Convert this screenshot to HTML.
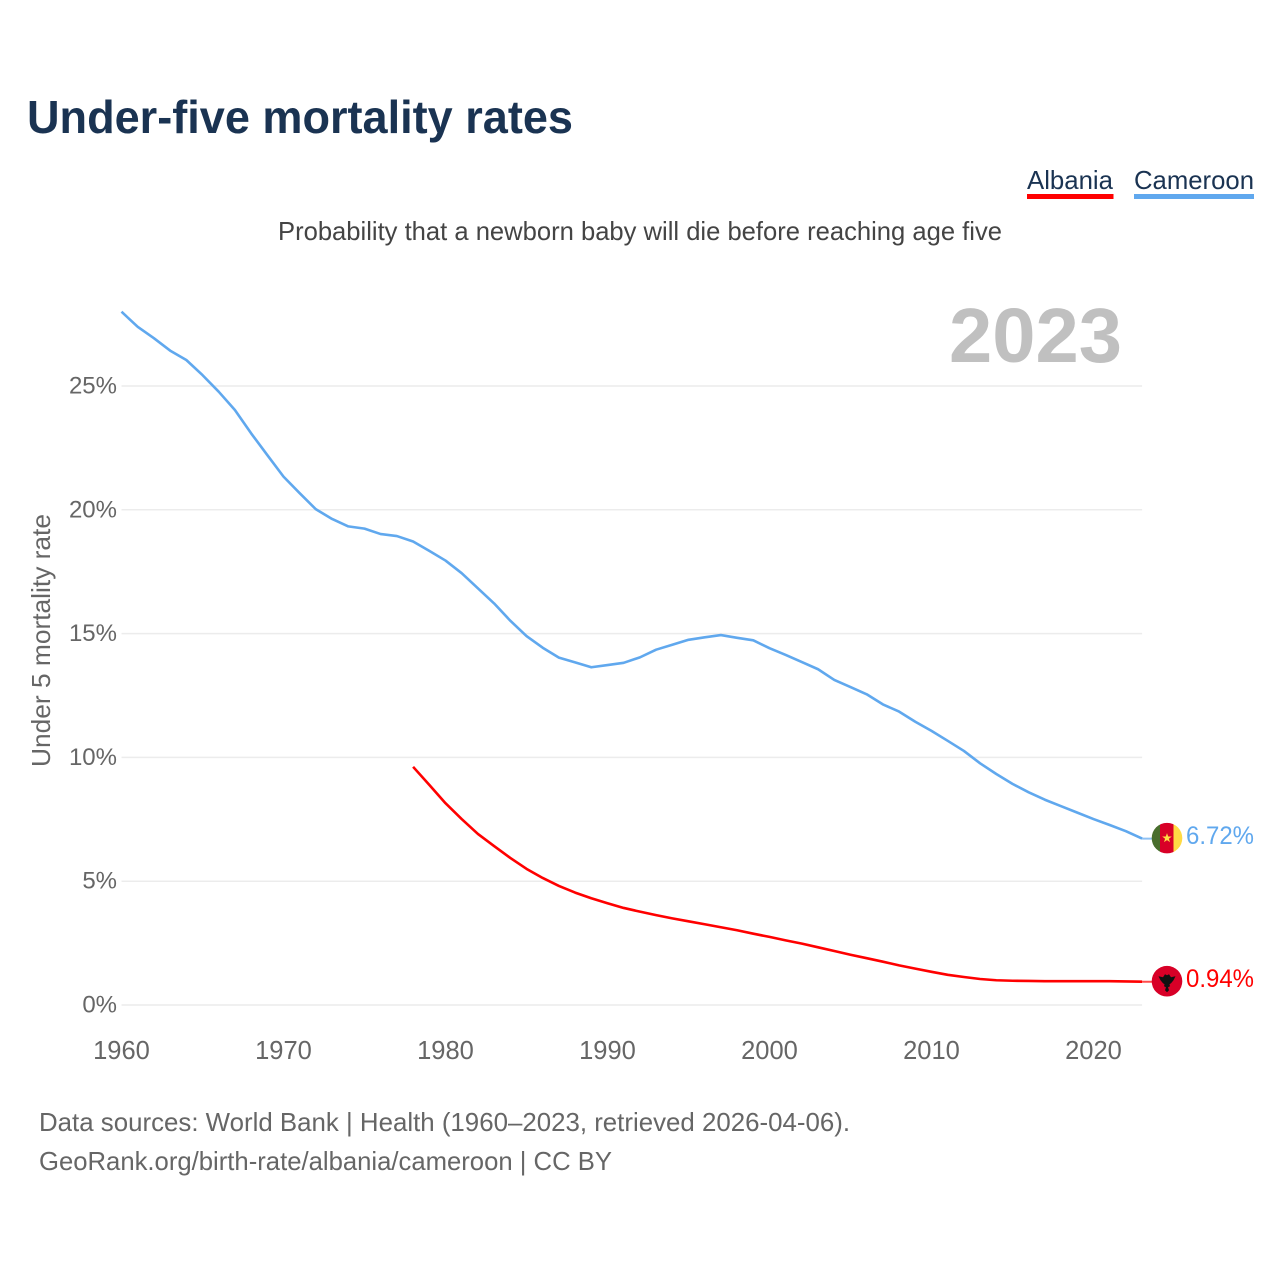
<!DOCTYPE html>
<html lang="en">
<head>
<meta charset="utf-8">
<title>Under-five mortality rates</title>
<style>
html,body{margin:0;padding:0;background:#fff;}
svg{display:block;font-family:"Liberation Sans",sans-serif;}
</style>
</head>
<body>
<svg id="chart" xmlns="http://www.w3.org/2000/svg" width="1280" height="1280" viewBox="0 0 1280 1280">
  <rect width="1280" height="1280" fill="#fff"/>
  <text x="27" y="133" font-size="46" font-weight="bold" fill="#1a3352" textLength="546" lengthAdjust="spacingAndGlyphs">Under-five mortality rates</text>
  <g>
    <text x="1027" y="189" font-size="26" fill="#1a3352" textLength="86" lengthAdjust="spacingAndGlyphs">Albania</text>
    <rect x="1027" y="194" width="86.500" height="5" fill="#ff0000"/>
  </g>
  <g>
    <text x="1134" y="189" font-size="26" fill="#1a3352" textLength="120" lengthAdjust="spacingAndGlyphs">Cameroon</text>
    <rect x="1134" y="194" width="120" height="5" fill="#60a8ee"/>
  </g>
  <text x="278" y="240" font-size="26" fill="#444" textLength="724" lengthAdjust="spacingAndGlyphs">Probability that a newborn baby will die before reaching age five</text>
  <text x="949" y="362" font-size="77" font-weight="bold" fill="#c0c0c0" textLength="173" lengthAdjust="spacingAndGlyphs">2023</text>
  <text transform="translate(50 640.500) rotate(-90)" text-anchor="middle" font-size="26" fill="#666" textLength="253" lengthAdjust="spacingAndGlyphs">Under 5 mortality rate</text>
  <g id="grid"></g>
  <g id="y-ticks"></g>
  <g id="x-ticks"></g>
  <g id="series"></g>
  <g id="flag-cameroon">
    <clipPath id="clip-cm"><circle cx="0" cy="0" r="15.300"/></clipPath>
    <g clip-path="url(#clip-cm)">
      <rect x="-16" y="-16" width="9" height="32" fill="#496e2d"/>
      <rect x="-7" y="-16" width="13.500" height="32" fill="#d80027"/>
      <rect x="6.500" y="-16" width="10" height="32" fill="#ffda44"/>
      <polygon points="0,-5 1.200,-1.600 4.800,-1.600 1.900,0.600 3,4 0,2 -3,4 -1.900,0.600 -4.800,-1.600 -1.200,-1.600" fill="#ffda44"/>
    </g>
  </g>
  <g id="flag-albania">
    <circle cx="0" cy="0" r="15.300" fill="#d80027"/>
    <polygon fill="#111" points="-8.500,-5 -4,-4 -2,-7 0,-6 2,-7 4,-4 8.500,-5 6.500,-1 4,2 2.500,3 3,5 1,6 2,9 0,11 -2,9 -1,6 -3,5 -2.500,3 -4,2 -6.500,-1"/>
  </g>
  <text id="label-cameroon" x="1186" y="844" font-size="25" fill="#60a8ee" textLength="68" lengthAdjust="spacingAndGlyphs"></text>
  <text id="label-albania" x="1186" y="987" font-size="25" fill="#ff0000" textLength="68" lengthAdjust="spacingAndGlyphs"></text>
  <text x="39" y="1131" font-size="26" fill="#666" textLength="811" lengthAdjust="spacingAndGlyphs">Data sources: World Bank | Health (1960–2023, retrieved 2026-04-06).</text>
  <text x="39" y="1170" font-size="26" fill="#666" textLength="573" lengthAdjust="spacingAndGlyphs">GeoRank.org/birth-rate/albania/cameroon | CC BY</text>
</svg>
<script>
const yTicks = [0, 5, 10, 15, 20, 25];
const xTicks = [1960, 1970, 1980, 1990, 2000, 2010, 2020];
const cameroonStartYear = 1960;
const cameroonValues = [28.0,27.39,26.93,26.43,26.05,25.44,24.77,24.03,23.09,22.21,21.34,20.67,20.02,19.63,19.33,19.24,19.02,18.94,18.72,18.34,17.95,17.44,16.83,16.22,15.52,14.90,14.43,14.03,13.84,13.64,13.73,13.82,14.04,14.35,14.55,14.75,14.85,14.94,14.83,14.73,14.41,14.14,13.85,13.56,13.13,12.84,12.55,12.14,11.85,11.44,11.07,10.67,10.26,9.76,9.33,8.93,8.59,8.29,8.03,7.77,7.51,7.27,7.02,6.72];
const albaniaStartYear = 1978;
const albaniaValues = [9.62,8.89,8.15,7.51,6.91,6.42,5.94,5.50,5.13,4.81,4.54,4.31,4.11,3.92,3.77,3.63,3.50,3.38,3.26,3.14,3.02,2.88,2.75,2.61,2.48,2.33,2.18,2.03,1.89,1.75,1.60,1.47,1.34,1.22,1.13,1.05,1.00,0.98,0.97,0.96,0.96,0.96,0.96,0.96,0.95,0.94];

const NS = 'http://www.w3.org/2000/svg';
const xScale = year => 121.5 + (year - 1960) * 16.2;
const yScale = pct => 1005 - pct * 24.76;
const plotRight = xScale(2023);
const flagX = 1167;

const grid = document.getElementById('grid');
const yGroup = document.getElementById('y-ticks');
for (const t of yTicks) {
  const line = document.createElementNS(NS, 'line');
  
  
  line.setAttribute('x1', xScale(1960));
  line.setAttribute('x2', plotRight);
  line.setAttribute('y1', yScale(t));
  line.setAttribute('y2', yScale(t));
  line.setAttribute('stroke', '#ececec');
  line.setAttribute('stroke-width', '1.5');
  grid.appendChild(line);
  const label = document.createElementNS(NS, 'text');
  
  
  label.setAttribute('x', 117);
  label.setAttribute('y', yScale(t) + 7.5);
  label.setAttribute('text-anchor', 'end');
  label.setAttribute('font-size', '24');
  label.setAttribute('fill', '#666');
  label.textContent = t + '%';
  yGroup.appendChild(label);
}

const xGroup = document.getElementById('x-ticks');
for (const t of xTicks) {
  const label = document.createElementNS(NS, 'text');
  
  
  label.setAttribute('x', xScale(t));
  label.setAttribute('y', 1059);
  label.setAttribute('text-anchor', 'middle');
  label.setAttribute('font-size', '25.500');
  label.setAttribute('fill', '#666');
  label.textContent = t;
  xGroup.appendChild(label);
}

function linePath(startYear, values) {
  return values.map((v, i) => (i ? 'L' : 'M') + xScale(startYear + i).toFixed(2) + ' ' + yScale(v).toFixed(2)).join('');
}
const seriesGroup = document.getElementById('series');

const albaniaLine = document.createElementNS(NS, 'path');


albaniaLine.setAttribute('d', linePath(albaniaStartYear, albaniaValues));
albaniaLine.setAttribute('fill', 'none');
albaniaLine.setAttribute('stroke', '#ff0000');
albaniaLine.setAttribute('stroke-width', '2.600');
albaniaLine.setAttribute('stroke-linejoin', 'round');
seriesGroup.appendChild(albaniaLine);

const cameroonLine = document.createElementNS(NS, 'path');


cameroonLine.setAttribute('d', linePath(cameroonStartYear, cameroonValues));
cameroonLine.setAttribute('fill', 'none');
cameroonLine.setAttribute('stroke', '#60a8ee');
cameroonLine.setAttribute('stroke-width', '2.600');
cameroonLine.setAttribute('stroke-linejoin', 'round');
seriesGroup.appendChild(cameroonLine);

const lastCameroon = cameroonValues[cameroonValues.length - 1];
const lastAlbania = albaniaValues[albaniaValues.length - 1];

const connectorCameroon = document.createElementNS(NS, 'line');


connectorCameroon.setAttribute('x1', plotRight);
connectorCameroon.setAttribute('x2', flagX);
connectorCameroon.setAttribute('y1', yScale(lastCameroon));
connectorCameroon.setAttribute('y2', yScale(lastCameroon));
connectorCameroon.setAttribute('stroke', '#60a8ee');
connectorCameroon.setAttribute('stroke-width', '2');
connectorCameroon.setAttribute('opacity', '0.7');
seriesGroup.appendChild(connectorCameroon);

const connectorAlbania = document.createElementNS(NS, 'line');


connectorAlbania.setAttribute('x1', plotRight);
connectorAlbania.setAttribute('x2', flagX);
connectorAlbania.setAttribute('y1', yScale(lastAlbania));
connectorAlbania.setAttribute('y2', yScale(lastAlbania));
connectorAlbania.setAttribute('stroke', '#ff0000');
connectorAlbania.setAttribute('stroke-width', '2');
connectorAlbania.setAttribute('opacity', '0.7');
seriesGroup.appendChild(connectorAlbania);

document.getElementById('flag-cameroon').setAttribute('transform', 'translate(' + flagX + ' ' + (yScale(lastCameroon) - 0.5) + ')');
document.getElementById('flag-albania').setAttribute('transform', 'translate(' + flagX + ' ' + (yScale(lastAlbania) - 0.5) + ')');

const cameroonLabel = document.getElementById('label-cameroon');
cameroonLabel.setAttribute('y', yScale(lastCameroon) + 5.5);
cameroonLabel.textContent = lastCameroon.toFixed(2) + '%';
const albaniaLabel = document.getElementById('label-albania');
albaniaLabel.setAttribute('y', yScale(lastAlbania) + 5.5);
albaniaLabel.textContent = lastAlbania.toFixed(2) + '%';
</script>
</body>
</html>
